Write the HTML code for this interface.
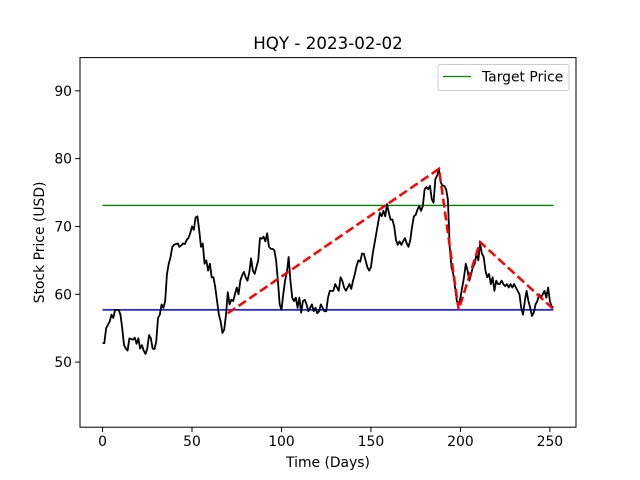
<!DOCTYPE html>
<html><head><meta charset="utf-8"><style>body{margin:0;background:#fff}svg{display:block;font-family:"DejaVu Sans","Liberation Sans",sans-serif}</style></head>
<body>
<svg id="chart" width="640" height="480" xmlns="http://www.w3.org/2000/svg"></svg>
<script>
const prices=[52.8,52.8,55,55.5,56,57,56.5,57.7,57.7,57.7,57,55,52.5,52,51.7,53.5,53.4,53.3,53.6,52.7,53.5,52,52.5,51.7,51.2,52,54,53.5,52,51.9,53,56.5,57,58.5,58,59,63,64.5,65.5,67,67.3,67.4,67.5,67,67.2,67.5,67.4,68,68.3,69,70,69.5,71.3,71.5,69.5,67,67.5,64.5,65,63.5,64.5,62.5,62.5,61,59,57,56,54.3,54.8,57,60.3,58.5,59.2,59,60,61,60,62,62.8,63.3,62.5,62,63.2,65.3,63.5,63,64,65,68.3,68.2,68.5,67.8,69,67,66.7,66.7,66.5,65,62,58.5,57.7,60,62,63.2,65.5,62,59.5,59,59.5,58,59.5,57.3,59,59.2,58.5,57.5,58,58.5,57.5,58,57.2,57.5,58.5,58,57.5,57.5,59.5,60.5,60.5,60.5,61.5,61,60.5,62.5,62,61,60.5,61,61.5,60.8,62,63,64.2,65,64.8,66,66,65,64,63.5,64,66,67.5,69,70.5,72,71.5,72.3,71.5,73.3,72,71,71,70,68,67.3,67.8,67.3,67.8,68.3,67.5,67,68,70,71.5,71.7,72.5,73,72.3,73,75.5,75.8,75.5,76,74,73.5,77,77.5,78.5,76.5,76,76,75.5,74,67,64,63,61,59,58.5,59.5,61,62.5,64.5,63.5,62,63,64,64.5,66,65,67.5,66,65.5,63.5,62.5,63,61.5,62.5,60.5,62,61.5,61.5,62,61.5,61.2,61.5,61,61.5,61,61.5,61,60.5,60,58,57,59,60.5,59,58,56.8,57.3,58.5,59,60,59.5,60,60.5,59.5,61,59,58.2,58];
const trendDays=[70,188,199,211,252];
const trendPrices=[57.2,78.5,57.7,67.7,57.8];
const targetPrice=73.1;
const supportPrice=57.7;
const xTicks=[0,50,100,150,200,250];
const yTicks=[50,60,70,80,90];
const L=80,R=576,T=57.6,B=427.2,x0=-12.6,x1=264.6,y0=40.4,y1=94.9;
const sx=d=>L+(d-x0)/(x1-x0)*(R-L), sy=v=>B-(v-y0)/(y1-y0)*(B-T);
const svg=document.getElementById('chart');const NS='http://www.w3.org/2000/svg';
function mk(t,a,p){const e=document.createElementNS(NS,t);for(const k in a)e.setAttribute(k,a[k]);(p||svg).appendChild(e);return e;}
let e;
e=mk('line',{x1:sx(0),x2:sx(252),y1:sy(targetPrice),y2:sy(targetPrice),stroke:'#008000','stroke-width':1.3});


e=mk('line',{x1:sx(0),x2:sx(252),y1:sy(supportPrice),y2:sy(supportPrice),stroke:'#0000ff','stroke-width':1.4});


e=mk('polyline',{points:prices.map((p,i)=>sx(i)+','+sy(p)).join(' '),fill:'none',stroke:'#000','stroke-width':1.8,'stroke-linejoin':'round'});


e=mk('polyline',{points:trendDays.map((d,i)=>sx(d)+','+sy(trendPrices[i])).join(' '),fill:'none',stroke:'#ff0000','stroke-width':2.5,'stroke-dasharray':'9,4'});


e=mk('rect',{x:L,y:T,width:R-L,height:B-T,fill:'none',stroke:'#000','stroke-width':1});


xTicks.forEach(t=>{const x=sx(t);
e=mk('line',{x1:x,x2:x,y1:B,y2:B+4.9,stroke:'#000','stroke-width':1});


e=mk('text',{x:x,y:B+19,'font-size':13.9,'text-anchor':'middle'});e.textContent=t;

});
yTicks.forEach(t=>{const y=sy(t);
e=mk('line',{x1:L-4.9,x2:L,y1:y,y2:y,stroke:'#000','stroke-width':1});


e=mk('text',{x:L-8,y:y+5,'font-size':13.9,'text-anchor':'end'});e.textContent=t;

});
e=mk('text',{x:(L+R)/2,y:49,'font-size':16.7,'text-anchor':'middle'});e.textContent='HQY - 2023-02-02';


e=mk('text',{x:(L+R)/2,y:467,'font-size':13.9,'text-anchor':'middle'});e.textContent='Time (Days)';


e=mk('text',{x:44,y:(T+B)/2,'font-size':13.9,'text-anchor':'middle',transform:'rotate(-90 44 '+((T+B)/2)+')'});e.textContent='Stock Price (USD)';


const lg=mk('g',{});


mk('rect',{x:438,y:64.5,width:131,height:26,rx:2,fill:'#fff',stroke:'#ccc','stroke-width':1},lg);
e=mk('line',{x1:443,x2:471,y1:76.5,y2:76.5,stroke:'#008000','stroke-width':1.3},lg);


e=mk('text',{x:482,y:81.5,'font-size':13.9},lg);e.textContent='Target Price';


</script>
</body></html>
